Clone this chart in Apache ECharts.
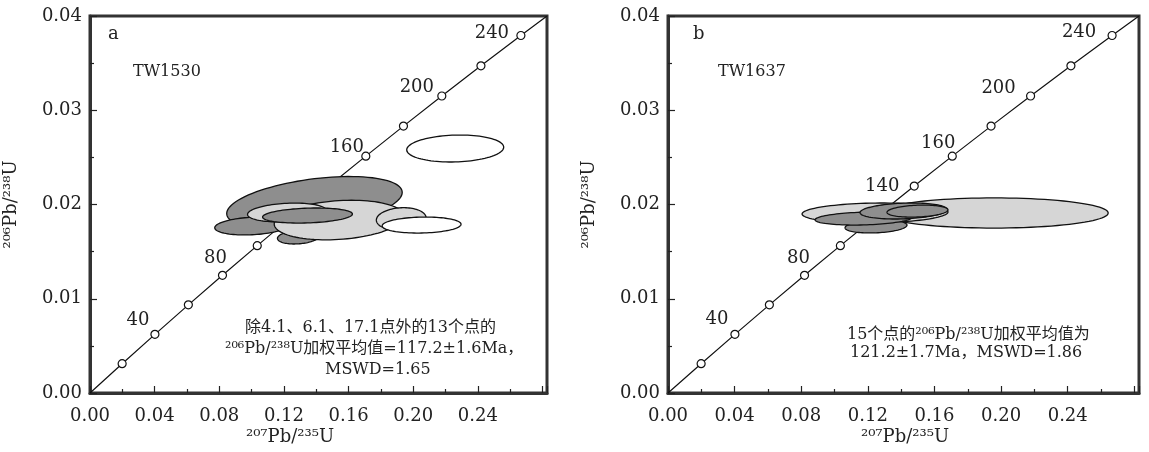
<!DOCTYPE html>
<html><head><meta charset="utf-8">
<script src="https://cdn.jsdelivr.net/npm/echarts@6/dist/echarts.min.js"></script>
<style>html,body{margin:0;padding:0;background:#fff}#c{width:1149px;height:452px}</style>
</head><body><div id="c"></div>
<script>
// Concordia reference points (age in Ma, 207Pb/235U, 206Pb/238U)
const concAge = [0, 20, 40, 60, 80, 100, 120, 140, 160, 180, 200, 220, 240, 252.8];
const conc207 = [0, 0.01989, 0.04018, 0.06087, 0.08198, 0.10350, 0.12545, 0.14784, 0.17068, 0.19397, 0.21771, 0.24192, 0.26664, 0.2828];
const conc206 = [0, 0.003107, 0.006224, 0.009351, 0.012487, 0.015633, 0.018789, 0.021955, 0.025131, 0.028316, 0.031511, 0.034717, 0.037932, 0.04];
const labelsA = [40, 80, 160, 200, 240];
const labelsB = [40, 80, 140, 160, 200, 240];

// Error ellipses: centre x, centre y, half-width x, half-height y, correlation, shade
const ellA_cx  = [0.226, 0.1389, 0.1003, 0.1290, 0.1540, 0.1926, 0.2052, 0.1219, 0.1346];
const ellA_cy  = [0.02594, 0.02016, 0.01772, 0.01655, 0.01835, 0.01846, 0.01782, 0.01915, 0.01883];
const ellA_sx  = [0.0300, 0.0543, 0.0231, 0.0130, 0.0400, 0.0154, 0.0244, 0.0244, 0.0278];
const ellA_sy  = [0.00143, 0.00281, 0.00095, 0.00074, 0.0021, 0.0012, 0.00085, 0.0010, 0.0008];
const ellA_rho = [0.1, 0.4, 0.2, 0.2, 0.2, 0.1, 0.1, 0.2, 0.2];
const ellA_kind = ['white', 'dark', 'dark', 'dark', 'light', 'light', 'white', 'light', 'dark'];

const ellB_cx  = [0.1958, 0.1243, 0.1249, 0.1174, 0.1414, 0.1498];
const ellB_cy  = [0.0191, 0.0191, 0.01767, 0.01851, 0.01931, 0.0193];
const ellB_sx  = [0.0685, 0.0438, 0.0186, 0.0291, 0.0261, 0.0183];
const ellB_sy  = [0.0016, 0.00106, 0.00069, 0.00069, 0.00085, 0.00064];
const ellB_rho = [0.0, 0.1, 0.2, 0.2, 0.2, 0.2];
const ellB_kind = ['light', 'light', 'dark', 'dark', 'dark', 'dark'];

const yTicks = [0, 0.01, 0.02, 0.03, 0.04];
const xTicks = [0, 0.04, 0.08, 0.12, 0.16, 0.20, 0.24];

// ---- styling ----
const SERIF = "'DejaVu Serif', 'Liberation Serif', 'Noto Sans CJK SC', serif";
const fills = {dark: '#8e8e8e', light: '#d6d6d6', white: '#ffffff'};
const labelOffA = {40: [-17, -14], 80: [-7, -17], 160: [-19, -9], 200: [-25, -9], 240: [-29, -2]};
const labelOffB = {40: [-18, -15], 80: [-6, -17], 140: [-32, 0], 160: [-14, -13], 200: [-32, -8], 240: [-33, -3]};

function concData(labels, offs) {
  return concAge.map((a, i) => {
    const end = (i === 0 || i === concAge.length - 1);
    const d = {value: [conc207[i], conc206[i]], symbol: end ? 'none' : 'circle'};
    if (labels.indexOf(a) >= 0) {
      d.label = {show: true, formatter: String(a), position: 'inside', offset: offs[a]};
    }
    return d;
  });
}
function ellData(cx, cy, sx, sy, rho, kind) {
  return cx.map((v, i) => [v, cy[i], sx[i], sy[i], rho[i], kind[i]]);
}
function renderEllipse(params, api) {
  const cx = api.value(0), cy = api.value(1), sx = api.value(2), sy = api.value(3), rho = api.value(4);
  const kind = api.value(5);
  const pts = [];
  const s = Math.sqrt(1 - rho * rho);
  for (let k = 0; k < 96; k++) {
    const t = k / 96 * Math.PI * 2;
    pts.push(api.coord([cx + sx * Math.cos(t), cy + sy * (rho * Math.cos(t) + s * Math.sin(t))]));
  }
  return {type: 'polygon', shape: {points: pts},
    style: {fill: fills[kind], stroke: '#111', lineWidth: 1.3}};
}

function xAxis(idx) {
  return {gridIndex: idx, type: 'value', min: 0, max: 0.2828, interval: 0.04,
    axisLine: {show: true, onZero: false, lineStyle: {color: '#333', width: 3}},
    axisTick: {show: true, inside: true, length: 7, lineStyle: {color: '#222', width: 1.2}},
    minorTick: {show: true, splitNumber: 2, length: 4, lineStyle: {color: '#222', width: 1.2}},
    splitLine: {show: false},
    axisLabel: {fontFamily: SERIF, fontSize: 18, color: '#222', margin: 14,
      formatter: v => v > 0.25 ? '' : v.toFixed(2), showMaxLabel: false}};
}
function yAxis(idx) {
  return {gridIndex: idx, type: 'value', min: 0, max: 0.04, interval: 0.01,
    axisLine: {show: true, onZero: false, lineStyle: {color: '#333', width: 3}},
    axisTick: {show: true, inside: true, length: 7, lineStyle: {color: '#222', width: 1.2}},
    minorTick: {show: true, splitNumber: 2, length: 4, lineStyle: {color: '#222', width: 1.2}},
    splitLine: {show: false},
    axisLabel: {fontFamily: SERIF, fontSize: 18, color: '#222', margin: 8, formatter: v => v.toFixed(2)},
    name: '²⁰⁶Pb/²³⁸U', nameLocation: 'middle', nameRotate: 90, nameGap: 70,
    nameTextStyle: {fontFamily: SERIF, fontSize: 18, color: '#222'}};
}
function concSeries(idx, labels, offs) {
  return {type: 'line', xAxisIndex: idx, yAxisIndex: idx, z: 2, silent: true,
    data: concData(labels, offs), symbolSize: 8, showAllSymbol: true,
    lineStyle: {color: '#111', width: 1.2},
    itemStyle: {color: '#fff', borderColor: '#111', borderWidth: 1.2},
    label: {fontFamily: SERIF, fontSize: 18, color: '#222'}, animation: false};
}
function ellSeries(idx, data) {
  return {type: 'custom', xAxisIndex: idx, yAxisIndex: idx, z: 3, silent: true,
    renderItem: renderEllipse, data: data, clip: true, animation: false};
}
function txt(x, y, text, size, align) {
  return {type: 'text', x: x, y: y, z: 10,
    style: {text: text, fontFamily: SERIF, fontSize: size, fill: '#222',
      textAlign: align || 'left', textVerticalAlign: 'middle'}};
}

const chart = echarts.init(document.getElementById('c'), null, {renderer: 'canvas'});
chart.setOption({
  animation: false,
  backgroundColor: '#fff',
  grid: [
    {left: 90, top: 16, width: 457, height: 377, show: true, borderColor: '#333', borderWidth: 3, containLabel: false},
    {left: 668, top: 16, width: 471, height: 377, show: true, borderColor: '#333', borderWidth: 3, containLabel: false}
  ],
  xAxis: [xAxis(0), xAxis(1)],
  yAxis: [yAxis(0), yAxis(1)],
  series: [
    concSeries(0, labelsA, labelOffA),
    concSeries(1, labelsB, labelOffB),
    ellSeries(0, ellData(ellA_cx, ellA_cy, ellA_sx, ellA_sy, ellA_rho, ellA_kind)),
    ellSeries(1, ellData(ellB_cx, ellB_cy, ellB_sx, ellB_sy, ellB_rho, ellB_kind))
  ],
  graphic: [
    txt(108, 34, 'a', 18),
    txt(133, 72, 'TW1530', 16),
    txt(245, 328, '除4.1、6.1、17.1点外的13个点的', 16),
    txt(225, 349, '²⁰⁶Pb/²³⁸U加权平均值=117.2±1.6Ma，', 16),
    txt(325, 370, 'MSWD=1.65', 16),
    txt(290, 437, '²⁰⁷Pb/²³⁵U', 18, 'center'),
    txt(693, 34, 'b', 18),
    txt(718, 72, 'TW1637', 16),
    txt(847, 335, '15个点的²⁰⁶Pb/²³⁸U加权平均值为', 16),
    txt(850, 353, '121.2±1.7Ma，MSWD=1.86', 16),
    txt(905, 437, '²⁰⁷Pb/²³⁵U', 18, 'center')
  ]
});
</script></body></html>
